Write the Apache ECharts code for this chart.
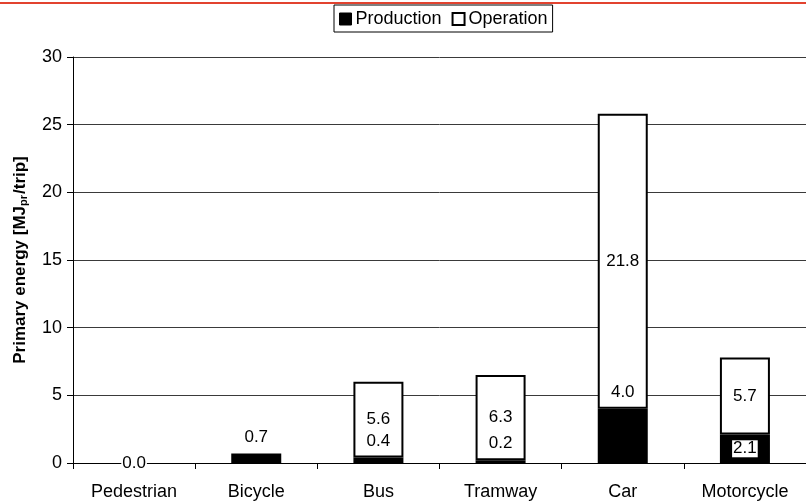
<!DOCTYPE html>
<html>
<head>
<meta charset="utf-8">
<script src="https://cdn.jsdelivr.net/npm/echarts@6/dist/echarts.min.js"></script>
<style>
  html, body { margin: 0; padding: 0; background: #fff; }
  #chart { width: 806px; height: 504px; }
</style>
</head>
<body>
<div id="chart"></div>
<script>
// Primary energy per trip by transport mode, split into production and operation
const modes = ['Pedestrian', 'Bicycle', 'Bus', 'Tramway', 'Car', 'Motorcycle'];
const production = [0.0, 0.7, 0.4, 0.2, 4.0, 2.1];
const operation = [0.0, 0.0, 5.6, 6.3, 21.8, 5.7];
const yTicks = [0, 5, 10, 15, 20, 25, 30];

const FONT = 'Liberation Sans, Arial, sans-serif';

// Production values sit above their segment, except where they are drawn
// inside a boxed white label (zero bar and the motorcycle segment).
const boxedInside = new Set(['Pedestrian', 'Motorcycle']);
const productionData = production.map((v, i) => {
  const inside = boxedInside.has(modes[i]);
  return {
    value: v,
    itemStyle: v > 0 ? {} : { borderWidth: 0 },
    label: inside
      ? { position: 'inside', backgroundColor: '#fff', padding: [0, 1, 0, 1] }
      : { position: 'top', distance: 8 }
  };
});
const operationData = operation.map(v => ({
  value: v,
  itemStyle: v > 0 ? {} : { borderWidth: 0 },
  label: { show: v > 0 }
}));

const chart = echarts.init(document.getElementById('chart'), null, { renderer: 'canvas' });
chart.setOption({
  animation: false,
  backgroundColor: '#fff',
  textStyle: { fontFamily: FONT, color: '#000' },
  graphic: [{
    type: 'line',
    shape: { x1: 0, y1: 3, x2: 806, y2: 3 },
    style: { stroke: '#e2432f', lineWidth: 2 },
    silent: true
  }],
  legend: {
    top: 5,
    left: 334,
    orient: 'horizontal',
    borderColor: '#000',
    borderWidth: 1,
    borderRadius: 0,
    padding: [5, 5, 4, 5],
    itemGap: 10,
    itemWidth: 12,
    itemHeight: 12,
    textStyle: { fontSize: 18, fontFamily: FONT, color: '#000', padding: [0, 0, 0, -1] },
    data: [
      { name: 'Production', icon: 'rect', itemStyle: { color: '#000', borderColor: '#000', borderWidth: 1 } },
      { name: 'Operation', icon: 'rect', itemStyle: { color: '#fff', borderColor: '#000', borderWidth: 2 } }
    ]
  },
  grid: { left: 73, right: -8, top: 57, bottom: 41, containLabel: false },
  xAxis: {
    type: 'category',
    data: modes,
    boundaryGap: true,
    axisLine: { lineStyle: { color: '#000', width: 1 } },
    axisTick: { show: true, length: 6, lineStyle: { color: '#000' } },
    axisLabel: { fontSize: 18, fontFamily: FONT, color: '#000', margin: 20 }
  },
  yAxis: {
    type: 'value',
    min: yTicks[0],
    max: yTicks[yTicks.length - 1],
    interval: yTicks[1] - yTicks[0],
    axisLine: { show: true, lineStyle: { color: '#000', width: 1 } },
    axisTick: { show: true, length: 6, lineStyle: { color: '#000' } },
    axisLabel: { fontSize: 18, fontFamily: FONT, color: '#000', margin: 11 },
    splitLine: { show: true, lineStyle: { color: '#3a3a3a', width: 1 } },
    name: '{b|Primary energy [MJ}{s|pr}{b|/trip]}',
    nameLocation: 'middle',
    nameRotate: 90,
    nameGap: 44,
    nameTextStyle: {
      rich: {
        b: { fontSize: 17, fontWeight: 'bold', fontFamily: FONT, color: '#000', lineHeight: 20, verticalAlign: 'bottom' },
        s: { fontSize: 11, fontWeight: 'bold', fontFamily: FONT, color: '#000', lineHeight: 11, verticalAlign: 'bottom', padding: [0, 1, 0, 0] }
      }
    }
  },
  series: [
    {
      name: 'Production',
      type: 'bar',
      stack: 'energy',
      barWidth: 50,
      data: productionData,
      itemStyle: { color: '#000', borderColor: '#000', borderWidth: 1.5 },
      label: {
        show: true,
        fontSize: 17,
        fontFamily: FONT,
        color: '#000',
        formatter: p => p.value.toFixed(1)
      },
      z: 3
    },
    {
      name: 'Operation',
      type: 'bar',
      stack: 'energy',
      barWidth: 50,
      data: operationData,
      itemStyle: { color: '#fff', borderColor: '#000', borderWidth: 2 },
      label: {
        show: true,
        position: 'inside',
        fontSize: 17,
        fontFamily: FONT,
        color: '#000',
        formatter: p => p.value.toFixed(1)
      },
      z: 2
    }
  ]
});
</script>
</body>
</html>
